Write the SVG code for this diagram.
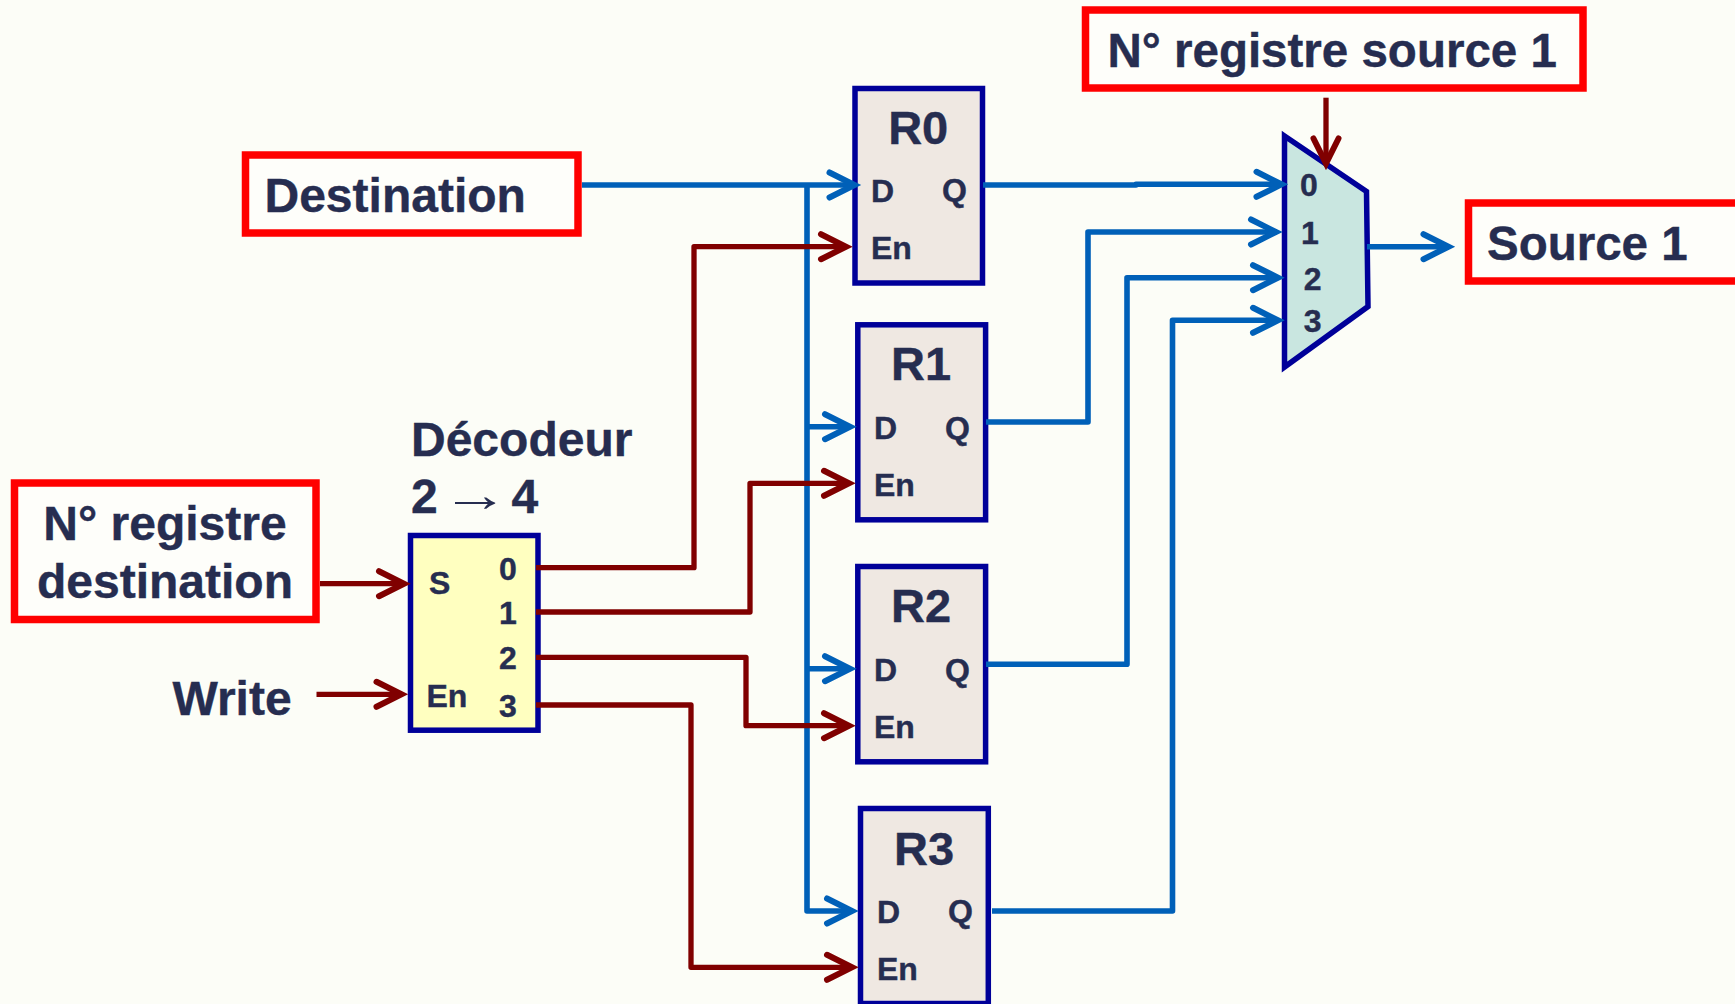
<svg xmlns="http://www.w3.org/2000/svg" width="1735" height="1004" viewBox="0 0 1735 1004">
<style>
text{font-family:"Liberation Sans",Arial,sans-serif;font-weight:700;fill:#262d50;stroke:#262d50;stroke-width:.4}
.big{font-size:47.5px}
.big2{font-size:48px}
.reg{font-size:47px;text-anchor:middle}
.port{font-size:32px}
.mid{text-anchor:middle}
.lbl{fill:#fefefa;stroke:#ff0000;stroke-width:7.5}
.box{fill:#efe8e2;stroke:#000099;stroke-width:5.5}
.dec{fill:#ffffc0;stroke:#000099;stroke-width:5.5}
.mux{fill:#c9e6e0;stroke:#000099;stroke-width:5.5}
.b{fill:none;stroke:#0060b8;stroke-width:5.6;stroke-linejoin:round}
.r{fill:none;stroke:#800000;stroke-width:5.3;stroke-linejoin:round}
.ab{marker-end:url(#hb)}
.ar{marker-end:url(#hr)}
</style>
<defs>
<marker id="hb" markerUnits="userSpaceOnUse" markerWidth="40" markerHeight="40" viewBox="-32 -20 40 40" refX="0" refY="0" orient="auto"><path d="M-25,-12.5 L0,0 L-25,12.5" fill="none" stroke="#0060b8" stroke-width="6" stroke-linecap="round" stroke-miterlimit="10"/></marker>
<marker id="hr" markerUnits="userSpaceOnUse" markerWidth="40" markerHeight="40" viewBox="-32 -20 40 40" refX="0" refY="0" orient="auto"><path d="M-25,-12.5 L0,0 L-25,12.5" fill="none" stroke="#800000" stroke-width="6" stroke-linecap="round" stroke-miterlimit="10"/></marker>
</defs>
<rect width="1735" height="1004" fill="#fcfdf7"/>
<g id="lbl-src-num"><rect class="lbl" x="1085.5" y="10" width="497.5" height="78"/><text class="big" x="1107.5" y="66.7">N° registre source 1</text></g>
<g id="lbl-destination"><rect class="lbl" x="245.5" y="155" width="332.5" height="78"/><text class="big2" x="264.5" y="211.7">Destination</text></g>
<g id="lbl-dest-num"><rect class="lbl" x="14.5" y="483" width="301.5" height="136.5"/><text class="big2 mid" x="165" y="540.3">N° registre</text><text class="big2 mid" x="165" y="597.7">destination</text></g>
<g id="lbl-source"><rect class="lbl" x="1468.5" y="203" width="400" height="78"/><text class="big" x="1487" y="260">Source 1</text></g>
<g id="lbl-write"><text class="big2" x="172.5" y="714.8">Write</text></g>
<g id="decoder">
<text class="big2" x="411" y="456">Décodeur</text>
<text class="big2" x="411" y="512.7">2<tspan x="511.5">4</tspan></text>
<text transform="translate(441 511) scale(1.43 1)" style="font-size:47.5px;font-weight:400;stroke:none">→</text>
<rect class="dec" x="410.5" y="535.5" width="127.5" height="194.7"/>
<text class="port" x="429" y="594.3">S</text><text class="port" x="426.5" y="706.7">En</text>
<text class="port mid" x="507.8" y="580">0</text><text class="port mid" x="507.8" y="624">1</text><text class="port mid" x="507.8" y="668.7">2</text><text class="port mid" x="507.8" y="716.7">3</text>
</g>
<g id="R0"><rect class="box" x="855" y="88.5" width="127.5" height="194.5"/><text class="reg" x="918.2" y="144">R0</text><text class="port" x="871" y="201.5">D</text><text class="port" x="942" y="200.5">Q</text><text class="port" x="871" y="258.8">En</text></g>
<g id="R1"><rect class="box" x="857.8" y="324.8" width="127.8" height="195"/><text class="reg" x="921" y="380">R1</text><text class="port" x="874" y="439">D</text><text class="port" x="945" y="438.5">Q</text><text class="port" x="874" y="495.7">En</text></g>
<g id="R2"><rect class="box" x="857.8" y="566.5" width="127.8" height="195.3"/><text class="reg" x="921" y="622.2">R2</text><text class="port" x="874" y="681">D</text><text class="port" x="945" y="680.5">Q</text><text class="port" x="874" y="737.7">En</text></g>
<g id="R3"><rect class="box" x="860.5" y="808.5" width="127.8" height="195"/><text class="reg" x="924" y="865">R3</text><text class="port" x="877" y="922.7">D</text><text class="port" x="948" y="922.2">Q</text><text class="port" x="877" y="979.8">En</text></g>
<g id="mux">
<polygon class="mux" points="1284.5,136 1366.5,191.5 1368,306.5 1284.5,367"/>
<text class="port mid" x="1309" y="195.7">0</text><text class="port mid" x="1310" y="244">1</text><text class="port mid" x="1312.6" y="290">2</text><text class="port mid" x="1312.6" y="331.7">3</text>
</g>
<g id="connectors">
<path class="b ab" d="M582,185 H854.5"/>
<path class="b ab" d="M807,185 V911 H852"/>
<path class="b ab" d="M807,426.7 H850"/>
<path class="b ab" d="M807,668.7 H850"/>
<path class="b ab" d="M983,185 H1136 V184.3 H1281.5"/>
<path class="b ab" d="M986,422 H1088 V232 H1276"/>
<path class="b ab" d="M986,664.3 H1127 V277.7 H1278"/>
<path class="b ab" d="M992,911 H1172.5 V320.3 H1278"/>
<path class="b ab" d="M1367,246.7 H1448.5"/>
<path class="r ar" d="M536,567.7 H694 V246.7 H846"/>
<path class="r ar" d="M536,612 H750 V483.3 H849"/>
<path class="r ar" d="M536,657.3 H746 V725.7 H849"/>
<path class="r ar" d="M536,705 H691 V967.3 H852"/>
<path class="r ar" d="M320,583.7 H404"/>
<path class="r ar" d="M316.5,694.3 H401.5"/>
<path class="r ar" d="M1326,97.7 V163.5"/>
</g>
</svg>
